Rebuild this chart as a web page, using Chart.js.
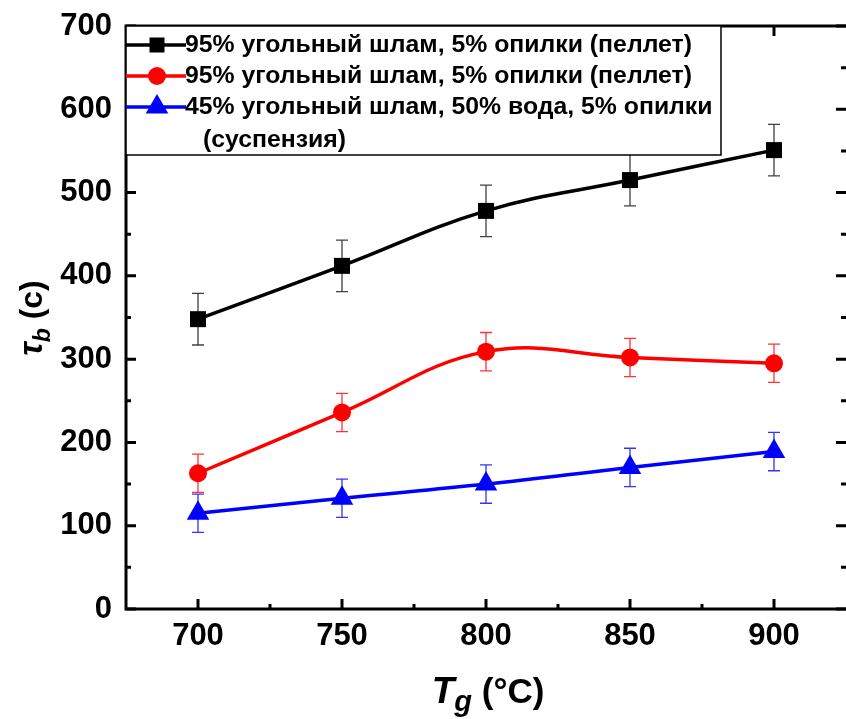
<!DOCTYPE html>
<html>
<head>
<meta charset="utf-8">
<script src="https://cdn.jsdelivr.net/npm/chart.js@4.4.1/dist/chart.umd.min.js"></script>
<style>
  body { margin: 0; background: #fff; }
  canvas { display: block; }
</style>
</head>
<body>
<canvas id="chart" width="846" height="719"></canvas>
<script>
// data
const temps = [700, 750, 800, 850, 900];
const xTicks = [700, 750, 800, 850, 900];
const yTicks = [0, 100, 200, 300, 400, 500, 600, 700];

const pelletVals = [348, 412, 478, 515, 551];
const pelletErr = [31, 31, 31, 31, 31];
const pellet2Vals = [163, 236, 309, 302, 295];
const pellet2Err = [23, 23, 23, 23, 23];
const suspVals = [115, 133, 150, 170, 189];
const suspErr = [23, 23, 23, 23, 23];

const labels = [
  ['95% угольный шлам, 5% опилки (пеллет)'],
  ['95% угольный шлам, 5% опилки (пеллет)'],
  ['45% угольный шлам, 50% вода, 5% опилки', '(суспензия)']
];

const FONT = '"Liberation Sans", Arial, sans-serif';

function pts(vals) {
  return temps.map((t, i) => ({ x: t, y: vals[i] }));
}

// error bars, drawn under the markers
const errorBars = {
  id: 'errorBars',
  beforeDatasetsDraw(chart) {
    const { ctx, scales: { x, y } } = chart;
    chart.data.datasets.forEach(ds => {
      ctx.save();
      ctx.strokeStyle = ds.errColor;
      ctx.lineWidth = 1.3;
      ds.data.forEach((p, i) => {
        const px = x.getPixelForValue(p.x);
        const top = y.getPixelForValue(p.y + ds.err[i]);
        const bot = y.getPixelForValue(p.y - ds.err[i]);
        ctx.beginPath();
        ctx.moveTo(px, top); ctx.lineTo(px, bot);
        ctx.moveTo(px - 6, top); ctx.lineTo(px + 6, top);
        ctx.moveTo(px - 6, bot); ctx.lineTo(px + 6, bot);
        ctx.stroke();
      });
      ctx.restore();
    });
  }
};

function marker(ctx, style, cx, cy, r, color) {
  ctx.fillStyle = color;
  ctx.beginPath();
  if (style === 'rect') {
    ctx.rect(cx - r, cy - r, 2 * r, 2 * r);
  } else if (style === 'circle') {
    ctx.arc(cx, cy, r, 0, Math.PI * 2);
  } else {
    ctx.moveTo(cx, cy - r);
    ctx.lineTo(cx + r * 0.87, cy + r * 0.5);
    ctx.lineTo(cx - r * 0.87, cy + r * 0.5);
    ctx.closePath();
  }
  ctx.fill();
}

// frame, inward ticks, legend box and axis titles
const decor = {
  id: 'decor',
  afterDraw(chart) {
    const { ctx, chartArea: a, scales: { x, y } } = chart;
    ctx.save();
    ctx.strokeStyle = '#000';
    ctx.lineCap = 'butt';

    // inward ticks on all four sides
    ctx.lineWidth = 3;
    ctx.beginPath();
    for (let v = 0; v <= 700; v += 50) {
      const py = y.getPixelForValue(v);
      const len = v % 100 === 0 ? 10 : 5;
      ctx.moveTo(a.left, py); ctx.lineTo(a.left + len, py);
      ctx.moveTo(a.right, py); ctx.lineTo(a.right - len, py);
    }
    for (let v = 700; v <= 900; v += 25) {
      const px = x.getPixelForValue(v);
      const len = v % 50 === 0 ? 10 : 5;
      ctx.moveTo(px, a.bottom); ctx.lineTo(px, a.bottom - len);
      ctx.moveTo(px, a.top); ctx.lineTo(px, a.top + len);
    }
    ctx.stroke();

    // frame: right edge falls at the image border, so only three sides show
    ctx.lineWidth = 3;
    ctx.beginPath();
    ctx.moveTo(a.right + 2, a.top); ctx.lineTo(a.left, a.top);
    ctx.lineTo(a.left, a.bottom); ctx.lineTo(a.right + 2, a.bottom);
    ctx.stroke();

    // legend
    const lx = a.left, ly = a.top, lw = 595, lh = 129;
    ctx.fillStyle = '#fff';
    ctx.fillRect(lx, ly, lw, lh);
    ctx.lineWidth = 1.5;
    ctx.strokeRect(lx, ly, lw, lh);
    ctx.font = 'bold 24.8px ' + FONT;
    ctx.textBaseline = 'middle';
    const rows = [45, 76, 107];
    chart.data.datasets.forEach((ds, i) => {
      const ry = rows[i];
      ctx.strokeStyle = ds.borderColor;
      ctx.lineWidth = 3.5;
      ctx.beginPath();
      ctx.moveTo(lx, ry); ctx.lineTo(lx + 60, ry);
      ctx.stroke();
      const r = ds.pointStyle === 'rect' ? 7.5 : ds.pointStyle === 'circle' ? 9 : 13;
      marker(ctx, ds.pointStyle, lx + 31, ry, r, ds.borderColor);
      ctx.fillStyle = '#000';
      const lines = labels[i];
      ctx.fillText(lines[0], lx + 59, ry);
      if (lines[1]) ctx.fillText(lines[1], lx + 77, ry + 33);
    });

    // y title: tau_b (c)
    ctx.fillStyle = '#000';
    ctx.save();
    ctx.translate(42, 318);
    ctx.rotate(-Math.PI / 2);
    ctx.textBaseline = 'alphabetic';
    const f1 = 'italic bold 33px ' + FONT, f2 = 'italic bold 23px ' + FONT, f3 = 'bold 32px ' + FONT;
    ctx.font = f1; const w1 = ctx.measureText('τ').width;
    ctx.font = f2; const w2 = ctx.measureText('b').width;
    ctx.font = f3; const w3 = ctx.measureText(' (c)').width;
    let sx = -(w1 + w2 + w3) / 2;
    ctx.font = f1; ctx.fillText('τ', sx, 0); sx += w1;
    ctx.font = f2; ctx.fillText('b', sx, 8); sx += w2;
    ctx.font = f3; ctx.fillText(' (c)', sx, 0);
    ctx.restore();

    // x title: T_g (°C)
    const g1 = 'italic bold 37px ' + FONT, g2 = 'italic bold 29px ' + FONT, g3 = 'bold 35px ' + FONT;
    ctx.font = g1; const v1 = ctx.measureText('T').width;
    ctx.font = g2; const v2 = ctx.measureText('g').width;
    ctx.font = g3; const v3 = ctx.measureText(' (°C)').width;
    let tx = 488 - (v1 + v2 + v3) / 2;
    const by = 703;
    ctx.textBaseline = 'alphabetic';
    ctx.font = g1; ctx.fillText('T', tx, by); tx += v1;
    ctx.font = g2; ctx.fillText('g', tx, by + 8); tx += v2;
    ctx.font = g3; ctx.fillText(' (°C)', tx, by);

    ctx.restore();
  }
};

function series(vals, err, color, errColor, style, radius) {
  return {
    data: pts(vals),
    err: err,
    errColor: errColor,
    borderColor: color,
    backgroundColor: color,
    borderWidth: 3.5,
    tension: 0.4,
    pointStyle: style,
    pointRadius: radius,
    pointBorderWidth: 0,
    pointBackgroundColor: color
  };
}

new Chart(document.getElementById('chart'), {
  type: 'line',
  data: {
    datasets: [
      series(pelletVals, pelletErr, '#000000', '#404040', 'rect', 11.3),
      series(pellet2Vals, pellet2Err, '#ff0000', '#ff3333', 'circle', 9),
      series(suspVals, suspErr, '#0000ff', '#3333ff', 'triangle', 13)
    ]
  },
  options: {
    responsive: false,
    animation: false,
    layout: { autoPadding: false, padding: { top: 26, right: 0, left: 1, bottom: 0 } },
    scales: {
      x: {
        type: 'linear',
        min: 675,
        max: 925,
        afterBuildTicks: s => { s.ticks = xTicks.map(v => ({ value: v })); },
        afterFit: s => { s.height = 110; s.paddingLeft = 0; s.paddingRight = 0; },
        grid: { display: false, drawTicks: false },
        border: { display: false },
        ticks: { color: '#000', padding: 9, maxRotation: 0, font: { family: FONT, size: 31, weight: 'bold' } }
      },
      y: {
        min: 0,
        max: 700,
        afterBuildTicks: s => { s.ticks = yTicks.map(v => ({ value: v })); },
        afterFit: s => { s.width = 125; s.paddingTop = 0; s.paddingBottom = 0; },
        grid: { display: false, drawTicks: false },
        border: { display: false },
        ticks: { color: '#000', padding: 14, font: { family: FONT, size: 31, weight: 'bold' } }
      }
    },
    plugins: {
      legend: { display: false },
      tooltip: { enabled: false }
    }
  },
  plugins: [errorBars, decor]
});
</script>
</body>
</html>
